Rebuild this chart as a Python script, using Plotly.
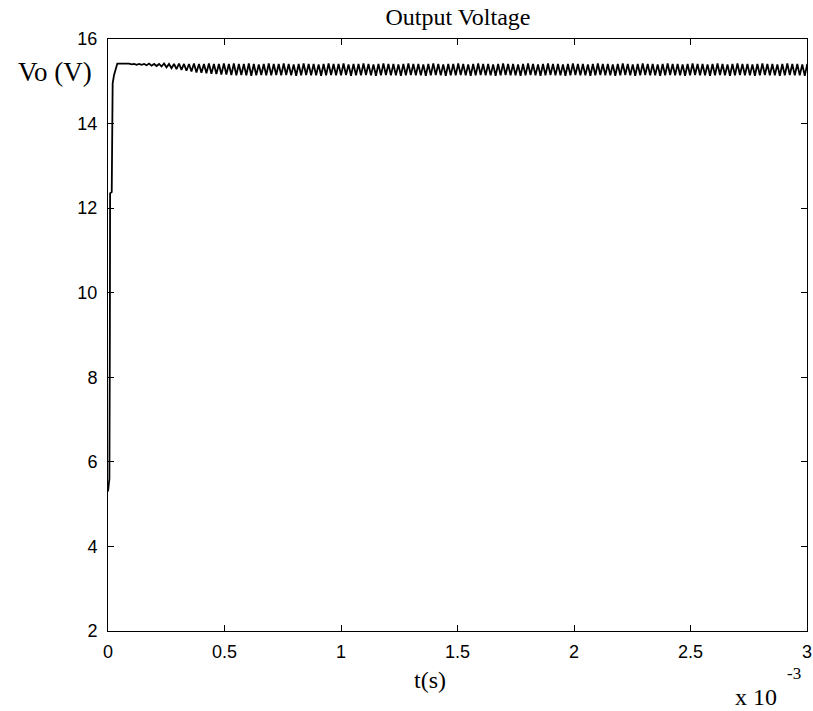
import numpy as np
import plotly.graph_objects as go

# start-up transient, time in ms, voltage in V
t_start = [0.0, 0.006, 0.008, 0.009, 0.016, 0.018, 0.020, 0.026, 0.040, 0.080]
v_start = [5.3, 5.6, 9.0, 12.35, 12.38, 14.6, 14.95, 15.15, 15.42, 15.42]

# switching ripple: one peak and one trough per cycle
ripple_period = 0.0214  # ms
ripple_peak = [
    15.42, 15.41, 15.41, 15.41, 15.42, 15.41, 15.41, 15.42, 15.41, 15.41,
    15.42, 15.41, 15.41, 15.42, 15.41, 15.41, 15.42, 15.41, 15.41, 15.42,
    15.41, 15.42, 15.41, 15.41, 15.42, 15.41, 15.40, 15.41, 15.42, 15.41,
    15.41, 15.42, 15.41, 15.40, 15.41, 15.42, 15.41, 15.41, 15.40, 15.41,
    15.42, 15.41, 15.41, 15.42, 15.40, 15.41, 15.41, 15.42, 15.41, 15.40,
    15.41, 15.42, 15.41, 15.41, 15.40, 15.41, 15.42, 15.41, 15.41, 15.40,
    15.41, 15.42, 15.41, 15.40, 15.41, 15.41, 15.42, 15.41, 15.40, 15.41,
    15.42, 15.41, 15.41, 15.40, 15.41, 15.42, 15.41, 15.41, 15.40, 15.41,
    15.42, 15.41, 15.40, 15.41, 15.42, 15.41, 15.41, 15.40, 15.41, 15.42,
    15.41, 15.41, 15.40, 15.41, 15.42, 15.41, 15.41, 15.40, 15.41, 15.42,
    15.41, 15.40, 15.41, 15.42, 15.41, 15.41, 15.40, 15.41, 15.42, 15.41,
    15.41, 15.40, 15.41, 15.42, 15.41, 15.41, 15.40, 15.41, 15.42, 15.41,
    15.40, 15.41, 15.42, 15.41, 15.41, 15.40, 15.41, 15.42, 15.41, 15.41,
    15.40, 15.41, 15.42, 15.41, 15.41, 15.40, 15.41,
]
ripple_trough = [
    15.40, 15.39, 15.39, 15.38, 15.37, 15.36, 15.35, 15.33, 15.31, 15.29,
    15.27, 15.25, 15.23, 15.21, 15.20, 15.19, 15.18, 15.17, 15.16, 15.16,
    15.15, 15.14, 15.15, 15.14, 15.13, 15.14, 15.15, 15.14, 15.14, 15.15,
    15.14, 15.15, 15.14, 15.13, 15.14, 15.15, 15.14, 15.14, 15.13, 15.14,
    15.15, 15.14, 15.14, 15.15, 15.13, 15.14, 15.14, 15.15, 15.14, 15.13,
    15.14, 15.15, 15.14, 15.14, 15.13, 15.14, 15.15, 15.14, 15.14, 15.13,
    15.14, 15.15, 15.14, 15.13, 15.14, 15.14, 15.15, 15.14, 15.13, 15.14,
    15.15, 15.14, 15.14, 15.13, 15.14, 15.15, 15.14, 15.14, 15.13, 15.14,
    15.15, 15.14, 15.13, 15.14, 15.15, 15.14, 15.14, 15.13, 15.14, 15.15,
    15.14, 15.14, 15.13, 15.14, 15.15, 15.14, 15.14, 15.13, 15.14, 15.15,
    15.14, 15.13, 15.14, 15.15, 15.14, 15.14, 15.13, 15.14, 15.15, 15.14,
    15.14, 15.13, 15.14, 15.15, 15.14, 15.14, 15.13, 15.14, 15.15, 15.14,
    15.13, 15.14, 15.15, 15.14, 15.14, 15.13, 15.14, 15.15, 15.14, 15.14,
    15.13, 15.14, 15.15, 15.14, 15.14, 15.13, 15.14,
]

x_ticks = [0, 0.5, 1, 1.5, 2, 2.5, 3]
x_tick_labels = ["0", "0.5", "1", "1.5", "2", "2.5", "3"]
y_ticks = [2, 4, 6, 8, 10, 12, 14, 16]

# interleave peaks and troughs on the switching time base
t_ripple = []
v_ripple = []
for k, (hi, lo) in enumerate(zip(ripple_peak, ripple_trough)):
    t0 = t_start[-1] + (k + 0.5) * ripple_period
    t_ripple += [t0, t0 + ripple_period / 2]
    v_ripple += [hi, lo]

t = t_start + t_ripple
v = v_start + v_ripple

fig = go.Figure()
fig.add_trace(go.Scatter(x=t, y=v, mode="lines",
                         line=dict(color="black", width=1.8),
                         showlegend=False))

axis_common = dict(
    showline=True, linecolor="black", linewidth=1, mirror="ticks",
    ticks="inside", ticklen=6, tickcolor="black", tickwidth=1,
    showgrid=False, zeroline=False, automargin=False,
    tickfont=dict(family="Liberation Sans, Arial", size=18, color="black"),
)

fig.update_xaxes(range=[0, 3], tickvals=x_ticks, ticktext=x_tick_labels,
                 ticklabelstandoff=4, **axis_common)
fig.update_yaxes(range=[2, 16], tickvals=y_ticks, ticklabelstandoff=6,
                 **axis_common)

serif = "Liberation Serif, Times New Roman"
fig.update_layout(
    width=813, height=711,
    margin=dict(l=108, r=6, t=39, b=80),
    plot_bgcolor="white", paper_bgcolor="white",
    title=dict(text="Output Voltage", x=0.5633, xanchor="center",
               y=0.976, yanchor="middle",
               font=dict(family=serif, size=24, color="black")),
    annotations=[
        dict(text="Vo (V)", xref="paper", yref="paper",
             x=-0.02, y=0.944, xanchor="right", yanchor="middle",
             showarrow=False, font=dict(family=serif, size=27, color="black")),
        dict(text="t(s)", xref="paper", yref="paper",
             x=0.4607, y=-0.083, xanchor="center", yanchor="middle",
             showarrow=False, font=dict(family=serif, size=24, color="black")),
        dict(text="x 10", xref="paper", yref="paper",
             x=0.9277, y=-0.1115, xanchor="center", yanchor="middle",
             showarrow=False, font=dict(family=serif, size=24, color="black")),
        dict(text="-3", xref="paper", yref="paper",
             x=0.9807, y=-0.071, xanchor="center", yanchor="middle",
             showarrow=False, font=dict(family=serif, size=17, color="black")),
    ],
)

# drop the default page margin so the figure sits at the window's corner
fig.write_html("out.html", config={"displayModeBar": False},
               post_script="document.body.style.margin='0';")
